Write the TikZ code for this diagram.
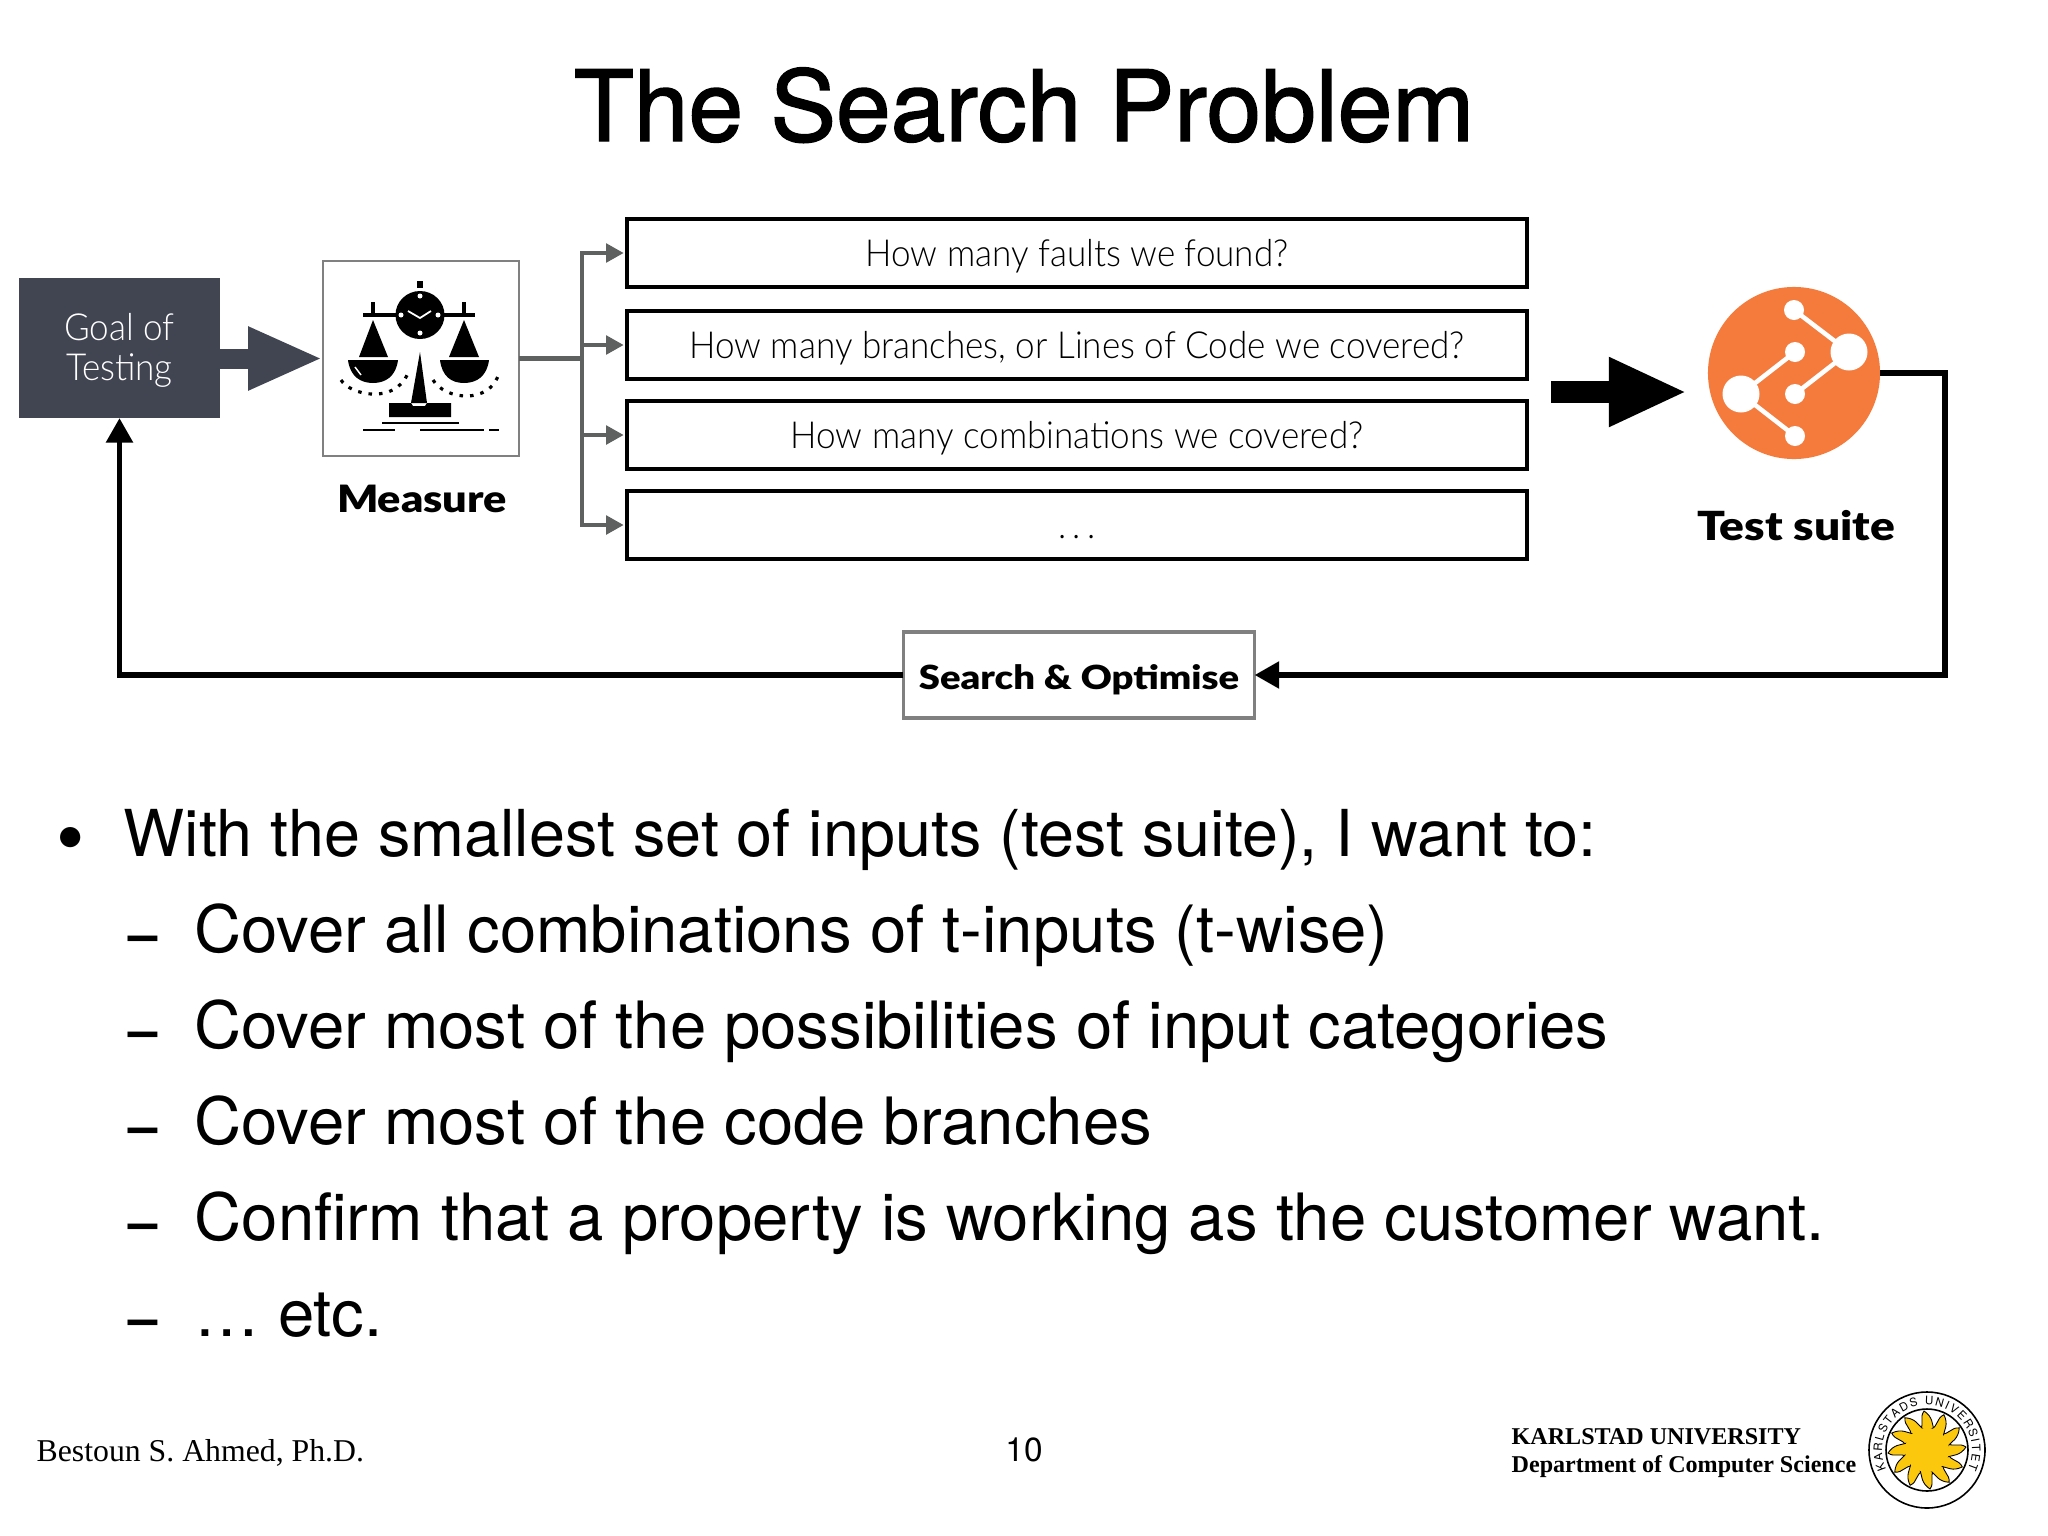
\documentclass[tikz,border=0pt]{standalone}
\usepackage{fontspec}
\setmainfont{TeX Gyre Heros}
\newfontfamily\titlefont[FakeBold=1.5]{TeX Gyre Heros}
\newfontfamily\lightfont[FakeStretch=0.94]{Lato Light}
\newfontfamily\blackfont[FakeStretch=1.15]{Lato Black}
\newfontfamily\serifpart{Liberation Serif}
\usetikzlibrary{arrows.meta,decorations.text}
\definecolor{slate}{HTML}{414552}
\definecolor{wire}{HTML}{5F6060}
\definecolor{frame}{HTML}{808080}
\definecolor{suiteorange}{HTML}{F47B3C}
\definecolor{sunyellow}{HTML}{FBC80E}
\tikzset{>=latex}
\tikzset{
  question/.style = {draw,line width=1.1pt,minimum width=9cm,minimum height=.68cm,
    outer sep=0pt,text height=8pt,text depth=.3pt,font=\lightfont\fontsize{10.6}{12}\selectfont},
  heading/.style = {font=\blackfont\fontsize{#1}{13}\selectfont},
  bodyline/.style = {anchor=base west,inner sep=0pt,font=\fontsize{#1}{20}\selectfont},
  dashmark/.style = {anchor=base west,inner sep=0pt,font=\bfseries\fontsize{15}{18}\selectfont},
  footline/.style = {anchor=base west,inner sep=0pt,font=\serifpart\bfseries\fontsize{6.85}{9}\selectfont},
  wirearrow/.style = {draw=wire,line width=1.2pt,shorten >=3*0.2845pt,
    -{Triangle[length=5pt,width=5.2pt]}},
  loopline/.style = {line width=1.6pt},
  blockarrow/.style = {line width=#1}
}
\begin{document}
\begin{tikzpicture}[x=0.01cm,y=-0.01cm]
  \useasboundingbox (0,0) rectangle (2048,1536);
  \node[anchor=base,font=\titlefont\fontsize{27.95}{30}\selectfont] (title) at (1024,141) {The Search Problem};

  % top row
  \node[fill=slate,text=white,minimum width=2cm,minimum height=1.4cm,outer sep=0pt,align=center,
        font=\lightfont\fontsize{10.6}{11.4}\selectfont] (goal) at (119.5,348) {\rule{0pt}{9pt}Goal of\\Testing};
  \node[draw=frame,line width=.6pt,minimum width=1.96cm,minimum height=1.95cm,outer sep=0pt] (measure) at (421,358.5) {};
  \node[heading=10.7] (measurelabel) at (422,499) {Measure};
  \node[question] (q1) at (1077,253) {How many faults we found?};
  \node[question] (q2) at (1077,345) {How many branches, or Lines of Code we covered?};
  \node[question] (q3) at (1077,435) {How many combinations we covered?};
  \node[question] (q4) at (1077,525) {.\,.\,.};
  \node[circle,fill=suiteorange,minimum size=1.72cm,inner sep=0pt,outer sep=0pt] (suite) at (1794,373) {};
  \node[heading=11.4] (suitelabel) at (1796,526) {Test suite};
  \node[draw=frame,line width=1pt,minimum width=3.51cm,minimum height=.86cm,outer sep=0pt,
        text height=8pt,text depth=0pt,
        font=\blackfont\fontsize{9.45}{12}\selectfont] (search) at (1079,675) {Search \& Optimise};

  % the scale
  \fill (420,315) ellipse (24.5 and 24);
  \fill (417,281) rectangle (423,288);
  \draw[line width=.9pt] (363,315) -- (475,315);
  \draw[line width=.9pt] (373,302) -- (373,315) (464,302) -- (464,315);
  \fill[white] (420,296) circle (2.5) (420,333) circle (2.5) (401,315) circle (2.5) (438,315) circle (2.5);
  \draw[white,line width=.5pt] (408,311) -- (420,318) -- (431,311);
  \fill (373,320) -- (388,357) -- (359,357) -- cycle;
  \fill (464,320) -- (479,357) -- (449,357) -- cycle;
  \fill (348,360) -- (398,360) .. controls (396,376) and (386,383) .. (373,383) .. controls (360,383) and (350,376) .. (348,360) -- cycle;
  \fill (440,360) -- (489,360) .. controls (487,376) and (477,383) .. (464,383) .. controls (451,383) and (442,376) .. (440,360) -- cycle;
  \draw[white,line width=.4pt] (355,367) -- (361,375);
  \fill (420,352) -- (427,403) -- (411,403) -- cycle;
  \fill (389,403) -- (411,403) -- (413,406) -- (425,406) -- (427,403) -- (451,403) -- (451,417) -- (389,417) -- cycle;
  \draw[line width=.8pt] (382,423) -- (459,423) (363,430) -- (395,430) (420,430) -- (484,430) (489,430) -- (499,430);
  \draw[line width=.9pt,dash pattern=on 1pt off 2pt] (341,380) .. controls (350,395) and (395,405) .. (408,373);
  \draw[line width=.9pt,dash pattern=on 1pt off 2pt] (433,380) .. controls (445,400) and (490,405) .. (499,373);

  % the tree on the orange disc
  \draw[white,line width=1.3pt] (1794,310) -- (1849,352) -- (1795,394) (1795,352) -- (1741,394) -- (1795,436);
  \fill[white] (1794,310) circle (10) (1795,352) circle (10) (1795,394) circle (10) (1795,436) circle (10);
  \fill[white] (1849,352) circle (18.5) (1741,394) circle (18.5);

  % connectors
  \draw[blockarrow=20*0.2845pt,slate,-{Triangle[length=21.3pt,width=16.6pt]}]
    (measure.west -| goal.east) -- (measure.west);
  \coordinate (branch) at (582,358.5);
  \draw[draw=wire,line width=1.2pt] (measure.east) -- (branch);
  \foreach \q in {q1,q2,q3,q4}
    \draw[wirearrow] (branch) |- (\q.west);
  \coordinate (thickfrom) at (1551,392);
  \coordinate (thickto) at (1687,392);
  \draw[blockarrow=22*0.2845pt,-{Triangle[length=22.2pt,width=18.2pt]}] (thickfrom) -- (thickto);
  \coordinate (turn) at (1945,675);
  \draw[loopline,-{Triangle[length=7pt,width=7.4pt]}] (suite.east) -| (turn) -- (search.east);
  \draw[loopline,-{Triangle[length=7pt,width=7.4pt]}] (search.west) -| (goal.south);

  % bullets
  \node[anchor=base west,inner sep=0pt,font=\fontsize{23}{25}\selectfont] (dot) at (56,865) {•};
  \node[bodyline=18.4] (b0) at (123,856) {With the smallest set of inputs (test suite), I want to:};
  \foreach \y/\t in {952/Cover all combinations of t-inputs (t-wise),
                     1048/Cover most of the possibilities of input categories,
                     1144/Cover most of the code branches,
                     1240/Confirm that a property is working as the customer want.,
                     1336/\dots{} etc.} {
    \node[dashmark] at (128,\y) {–};
    \node[bodyline=18.55] at (194,\y) {\t};
  }

  % footer
  \node[anchor=base west,inner sep=0pt,font=\serifpart\fontsize{9.03}{11}\selectfont] (author) at (36,1461) {Bestoun S. Ahmed, Ph.D.};
  \node[anchor=base,font=\fontsize{9.5}{11}\selectfont] (page) at (1024,1461) {10};
  \node[footline] (uni) at (1511,1444) {KARLSTAD UNIVERSITY};
  \node[footline] (dept) at (1511,1472) {Department of Computer Science};

  % seal
  \draw[line width=.45pt] (1927,1450) circle (58);
  \draw[line width=.45pt] (1927,1450) circle (41);
  \foreach \a in {0,30,...,330}
    \fill[sunyellow,draw=black,line width=.25pt,shift={(1927,1450)},rotate=\a]
      (-7,-20) .. controls (-2,-27) and (-8,-32) .. (-3,-39) .. controls (6,-33) and (5,-26) .. (7,-20) -- cycle;
  \fill[sunyellow] (1927,1450) circle (22);
  \path[postaction={decorate},decoration={text along path,text align=fit to path,
        text={|\fontsize{3.3}{5}\selectfont|KARLSTADS UNIVERSITET}}]
    (1927,1450) ++(155:45) arc (155:385:45);
\end{tikzpicture}
\end{document}
